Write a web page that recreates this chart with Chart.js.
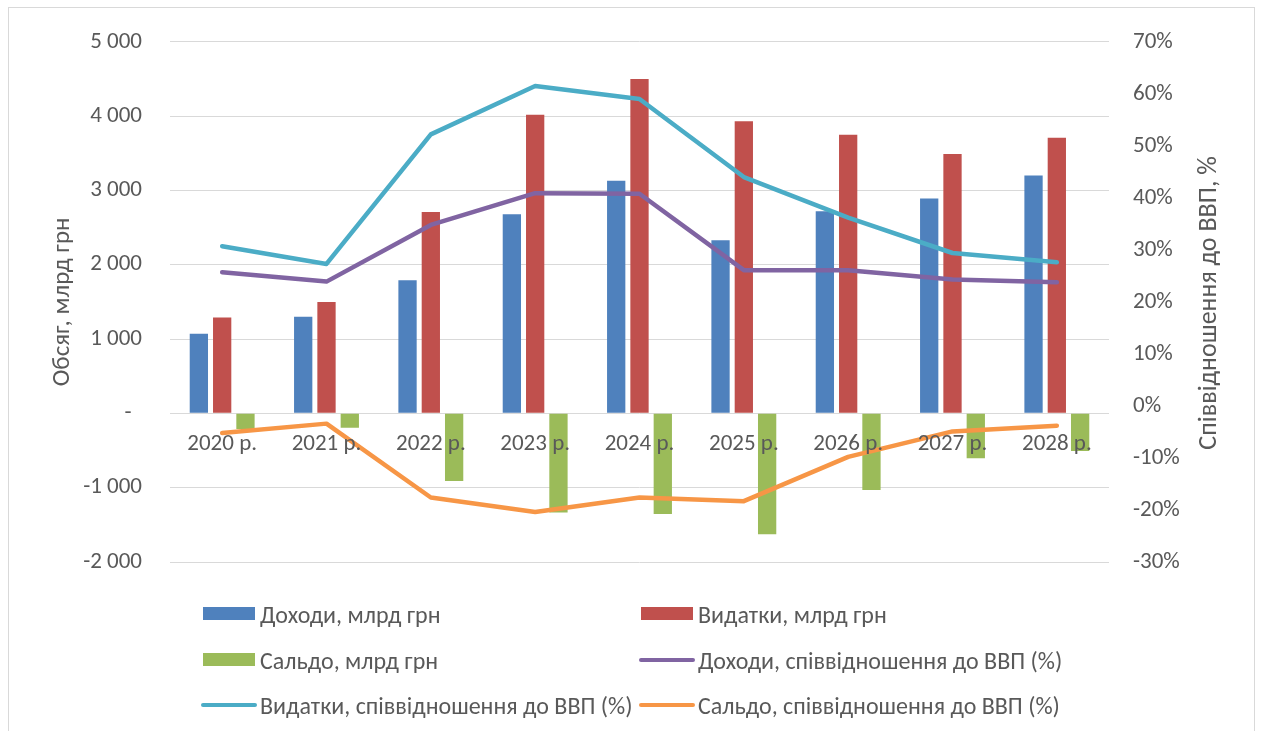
<!DOCTYPE html>
<html><head><meta charset="utf-8">
<script src="https://cdn.jsdelivr.net/npm/chart.js@4.4.1/dist/chart.umd.min.js"></script>
<style>
html,body{margin:0;padding:0;background:#fff;}
#wrap{position:relative;width:1261px;height:731px;overflow:hidden;}
#frame{position:absolute;left:8px;top:7px;width:1247px;height:760px;border:1px solid #d9d9d9;box-sizing:border-box;}
#c{position:absolute;left:0;top:0;}
#legend{position:absolute;left:0;top:0;width:1261px;height:731px;pointer-events:none;font-family:Carlito,"Liberation Sans",sans-serif;font-size:24px;color:#595959;}
.item{position:absolute;display:flex;align-items:center;height:30px;white-space:nowrap;}
.sw{width:56px;height:30px;position:relative;margin-right:3px;}
.sw i{position:absolute;display:block;}
.sw i.bar{left:2px;right:2px;top:8px;height:13px;}
.sw i.line{left:0;right:0;top:12.5px;height:4.5px;border-radius:3px;}
</style></head>
<body><div id="wrap"><div id="frame"></div><canvas id="c" width="1261" height="731"></canvas><div id="legend"></div></div>
<script>
const categories = ['2020 р.', '2021 р.', '2022 р.', '2023 р.', '2024 р.', '2025 р.', '2026 р.', '2027 р.', '2028 р.'];
const revenue = [1070, 1300, 1790, 2680, 3130, 2330, 2720, 2890, 3200];
const expenditure = [1290, 1500, 2710, 4020, 4500, 3930, 3750, 3490, 3710];
const balance = [-210, -195, -910, -1335, -1355, -1625, -1030, -605, -505];
const revenuePct = [25.7, 23.9, 34.8, 40.9, 40.8, 26.1, 26.1, 24.3, 23.8];
const expenditurePct = [30.7, 27.3, 52.2, 61.5, 59.0, 44.0, 36.2, 29.4, 27.6];
const balancePct = [-5.2, -3.4, -17.6, -20.4, -17.6, -18.3, -9.8, -4.9, -3.8];
const seriesNames = ['Доходи, млрд грн', 'Видатки, млрд грн', 'Сальдо, млрд грн',
  'Доходи, співвідношення до ВВП (%)', 'Видатки, співвідношення до ВВП (%)', 'Сальдо, співвідношення до ВВП (%)'];
const leftTickLabels = ['-2 000', '-1 000', '-\u00a0\u00a0', '1 000', '2 000', '3 000', '4 000', '5 000'];
const rightTickLabels = ['-30%', '-20%', '-10%', '0%', '10%', '20%', '30%', '40%', '50%', '60%', '70%'];
const leftAxisTitle = 'Обсяг, млрд грн';
const rightAxisTitle = 'Співвідношення до ВВП, %';
const colors = ['#4F81BD', '#C0504D', '#9BBB59', '#8064A2', '#4BACC6', '#F79646'];

const FONT = 'Carlito, "Liberation Sans", sans-serif';
const TXT = '#595959';
Chart.defaults.font.family = FONT;
Chart.defaults.color = TXT;

const barDs = (i, data) => ({type: 'bar', label: seriesNames[i], data, backgroundColor: colors[i],
  yAxisID: 'y', order: 1, categoryPercentage: 0.67, barPercentage: 0.785});
const lineDs = (i, data) => ({type: 'line', label: seriesNames[i], data, borderColor: colors[i],
  backgroundColor: colors[i], borderWidth: 4.5, pointRadius: 0, tension: 0, yAxisID: 'y1', order: 0,
  borderCapStyle: 'round', borderJoinStyle: 'round', fill: false});

const rightTitlePlugin = {
  id: 'rightTitle',
  afterDraw(chart) {
    const {ctx, chartArea} = chart;
    ctx.save();
    ctx.translate(1209, (chartArea.top + chartArea.bottom) / 2 + 1);
    ctx.rotate(-Math.PI / 2);
    ctx.font = '26px ' + FONT;
    ctx.fillStyle = TXT;
    ctx.textAlign = 'center';
    ctx.textBaseline = 'middle';
    ctx.fillText(rightAxisTitle, 0, 0);
    ctx.restore();
  }
};

new Chart(document.getElementById('c'), {
  data: {
    labels: categories,
    datasets: [
      barDs(0, revenue), barDs(1, expenditure), barDs(2, balance),
      lineDs(3, revenuePct), lineDs(4, expenditurePct), lineDs(5, balancePct)
    ]
  },
  options: {
    responsive: false,
    animation: false,
    events: [],
    layout: {padding: {left: 0, right: 0, top: 40, bottom: 169}},
    plugins: {legend: {display: false}, tooltip: {enabled: false}, title: {display: false}},
    scales: {
      x: {
        type: 'category',
        position: {y: 0},
        grid: {display: false, drawTicks: false},
        border: {display: false},
        ticks: {font: {size: 23}, color: TXT, padding: 17, maxRotation: 0, autoSkip: false, z: 1}
      },
      y: {
        type: 'linear',
        position: 'left',
        min: -2000, max: 5000,
        grid: {color: '#d9d9d9', lineWidth: 1, drawTicks: false},
        border: {display: false},
        ticks: {stepSize: 1000, font: {size: 23}, color: TXT, padding: 28,
          callback: (v, i) => leftTickLabels[i]},
        title: {display: true, text: leftAxisTitle, font: {size: 25}, color: TXT, padding: {top: 48, bottom: 0}},
        afterFit: s => { s.width = 170; }
      },
      y1: {
        type: 'linear',
        position: 'right',
        min: -30, max: 70,
        grid: {display: false, drawTicks: false},
        border: {display: false},
        ticks: {stepSize: 10, font: {size: 23}, color: TXT, padding: 24,
          callback: (v, i) => rightTickLabels[i]},
        afterFit: s => { s.width = 152; }
      }
    }
  },
  plugins: [rightTitlePlugin]
});

// HTML legend, two columns x three rows
const legend = document.getElementById('legend');
const colX = [201, 639];
const rowY = [614, 660, 705];
seriesNames.forEach((name, i) => {
  const el = document.createElement('div');
  el.className = 'item';
  el.style.left = colX[i % 2] + 'px';
  el.style.top = (rowY[Math.floor(i / 2)] - 15) + 'px';
  const sw = document.createElement('span');
  sw.className = 'sw';
  const mark = document.createElement('i');
  mark.className = i < 3 ? 'bar' : 'line';
  mark.style.background = colors[i];
  sw.appendChild(mark);
  const t = document.createElement('span');
  t.textContent = name;
  el.appendChild(sw); el.appendChild(t);
  legend.appendChild(el);
});
</script>
</body></html>
